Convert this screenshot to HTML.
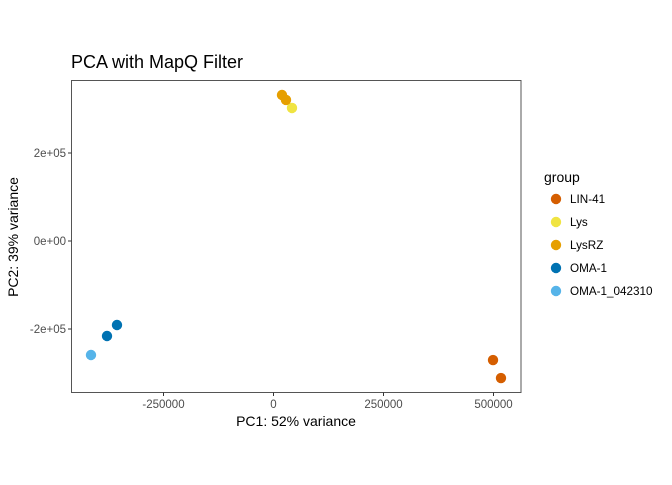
<!DOCTYPE html>
<html><head><meta charset="utf-8"><style>
body{margin:0;background:#fff;}
svg text{font-family:"Liberation Sans",sans-serif;}
</style></head><body>
<svg id="chart" width="672" height="480" xmlns="http://www.w3.org/2000/svg">
<text x="71" y="68" font-size="18" fill="#000">PCA with MapQ Filter</text>
<rect x="71.5" y="80.5" width="449.5" height="312" fill="none" stroke="#555" stroke-width="1"/>
<g id="ticks"></g>
<g id="points"></g>
<text x="296" y="426" font-size="14" text-anchor="middle" fill="#000">PC1: 52% variance</text>
<text transform="translate(18,237) rotate(-90)" font-size="14" text-anchor="middle" fill="#000">PC2: 39% variance</text>
<text x="544" y="182" font-size="14" fill="#000">group</text>
<g id="legend"></g>
</svg>
<script>
const groups=["LIN-41","Lys","LysRZ","OMA-1","OMA-1_042310"];
const colors=["#D55E00","#F0E442","#E69F00","#0072B2","#56B4E9"];
const pc1=[498900,517000,42000,19300,28400,-355700,-378400,-414800];
const pc2=[-270500,-311400,302300,331800,320500,-190900,-215900,-259100];
const grp=[0,0,1,2,2,3,3,4];
const xTicks=[-250000,0,250000,500000];
const xTickLabels=["-250000","0","250000","500000"];
const yTicks=[200000,0,-200000];
const yTickLabels=["2e+05","0e+00","-2e+05"];
const X=v=>273.5+v*110/250000;
const Y=v=>241-v*88/200000;
const NS="http://www.w3.org/2000/svg";
function mk(t,a){const e=document.createElementNS(NS,t);for(const k in a)e.setAttribute(k,a[k]);return e;}
const tg=document.getElementById('ticks');
xTicks.forEach((v,i)=>{
 const l=mk('line',{x1:X(v),x2:X(v),y1:392.5,y2:396,stroke:'#333'});
 
 
 tg.appendChild(l);
 const t=mk('text',{x:X(v),y:408,'font-size':11.5,'text-anchor':'middle',fill:'#4d4d4d'});
 t.textContent=xTickLabels[i];
 
 
 tg.appendChild(t);
});
yTicks.forEach((v,i)=>{
 const l=mk('line',{x1:68,x2:71.5,y1:Y(v),y2:Y(v),stroke:'#333'});
 
 
 tg.appendChild(l);
 const t=mk('text',{x:66,y:Y(v)+4,'font-size':11.5,'text-anchor':'end',fill:'#4d4d4d'});
 t.textContent=yTickLabels[i];
 
 
 tg.appendChild(t);
});
const pg=document.getElementById('points');
pc1.forEach((v,i)=>{
 const c=mk('circle',{cx:X(v),cy:Y(pc2[i]),r:5.2,fill:colors[grp[i]]});
 
 
 pg.appendChild(c);
});
const lg=document.getElementById('legend');
groups.forEach((g,i)=>{
 const y=199+i*23;
 const c=mk('circle',{cx:556,cy:y,r:5.2,fill:colors[i]});
 
 
 lg.appendChild(c);
 const t=mk('text',{x:570,y:y+4,'font-size':11.7,fill:'#000'});
 t.textContent=g;
 
 
 lg.appendChild(t);
});
</script>
</body></html>
